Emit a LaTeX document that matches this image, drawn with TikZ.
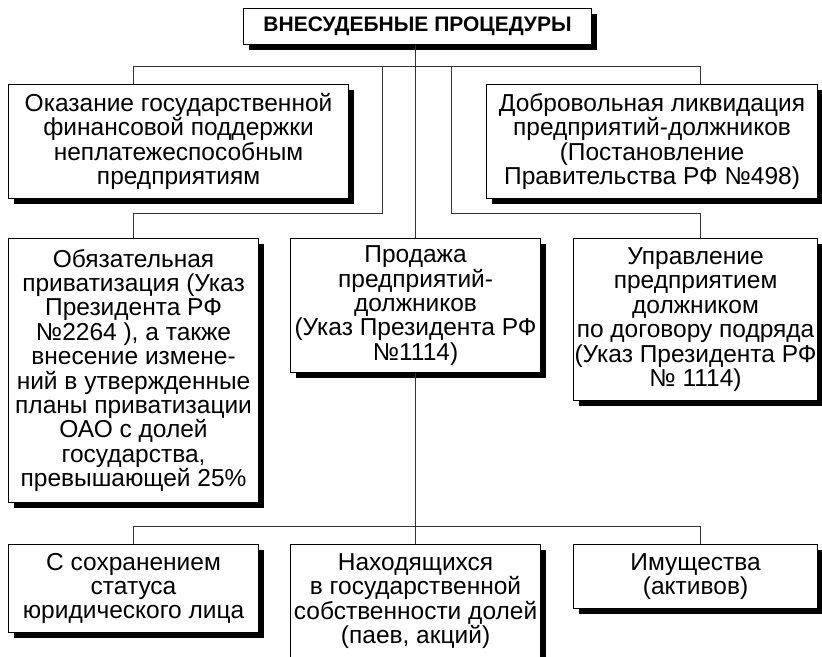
\documentclass[tikz,border=0pt]{standalone}
\usepackage{fontspec}
\setmainfont{Liberation Sans}
\usetikzlibrary{shadows}
\begin{document}
\begin{tikzpicture}[x=1pt,y=-1pt,
  box/.style={draw=black, line width=1.1pt, fill=white, anchor=north west,
    inner sep=0pt, align=center, font=\fontsize{24.5}{24.4}\selectfont,
    drop shadow={shadow xshift=5pt, shadow yshift=-5pt, fill=black, opacity=1}},
  titlebox/.style={box, font=\fontsize{21}{24}\selectfont\bfseries},
  conn/.style={draw=black!80, line width=0.9pt}]
\useasboundingbox[fill=white] (0,0) rectangle (822,656);

\node[titlebox, minimum width=348, minimum height=36] (T) at (243,8) {ВНЕСУДЕБНЫЕ ПРОЦЕДУРЫ};

\node[box, minimum width=340, minimum height=114] (A) at (8,84)
  {Оказание государственной\\финансовой поддержки\\неплатежеспособным\\предприятиям};
\node[box, minimum width=331, minimum height=114] (B) at (486,84)
  {Добровольная ликвидация\\предприятий-должников\\(Постановление\\Правительства РФ №498)};

\node[box, minimum width=250, minimum height=264] (C) at (8,238)
  {Обязательная\\приватизация (Указ\\Президента РФ\\№2264 ), а также\\внесение измене-\\ний в утвержденные\\планы приватизации\\ОАО с долей\\государства,\\превышающей 25\%};
\node[box, minimum width=250, minimum height=134] (D) at (290,238)
  {Продажа\\предприятий-\\должников\\(Указ Президента РФ\\№1114)};
\node[box, minimum width=244, minimum height=162] (E) at (573,238)
  {Управление\\предприятием\\должником\\по договору подряда\\(Указ Президента РФ\\№ 1114)};

\node[box, minimum width=250, minimum height=88] (F) at (8,544)
  {С сохранением\\статуса\\юридического лица};
\node[box, minimum width=250, minimum height=113] (G) at (290,544)
  {Находящихся\\в государственной\\собственности долей\\(паев, акций)};
\node[box, minimum width=244, minimum height=64] (H) at (573,544)
  {Имущества\\(активов)};

% connector coordinates
\coordinate (b1l) at (133,66);
\coordinate (b1r) at (700,66);
\coordinate (s1) at (382,66);
\coordinate (s1d) at (382,213);
\coordinate (s1l) at (133,213);
\coordinate (s2) at (451,66);
\coordinate (s2d) at (451,213);
\coordinate (s2r) at (700,213);
\coordinate (b3l) at (133,526);
\coordinate (b3r) at (700,526);

\draw[conn] (T.south -| D.north) -- (D.north);
\draw[conn] (D.south) -- (G.north);
\draw[conn] (A.north -| b1l) -- (b1l) -- (b1r) -- (B.north -| b1r);
\draw[conn] (s1) -- (s1d) -- (s1l) -- (C.north -| s1l);
\draw[conn] (s2) -- (s2d) -- (s2r) -- (E.north -| s2r);
\draw[conn] (F.north -| b3l) -- (b3l) -- (b3r) -- (H.north -| b3r);
\end{tikzpicture}
\end{document}
